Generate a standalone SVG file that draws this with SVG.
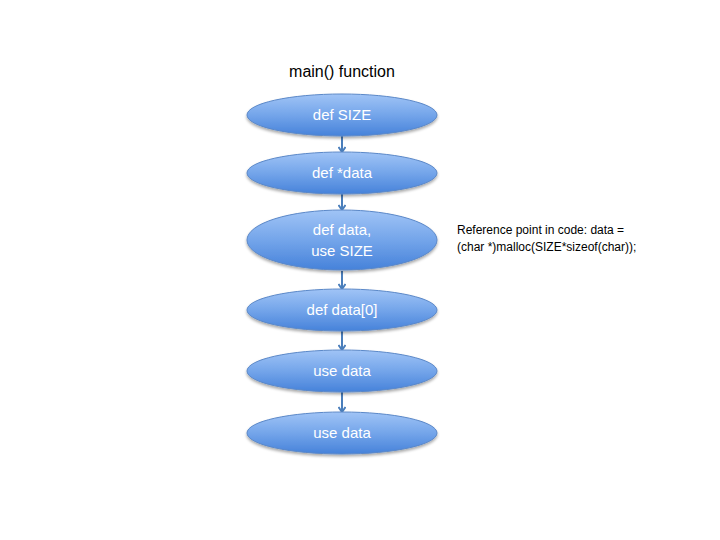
<svg xmlns="http://www.w3.org/2000/svg" width="720" height="540" viewBox="0 0 720 540">
<style>
.n{fill:url(#g);stroke:#5b88c8;stroke-width:1;filter:url(#sh)}
.t{font-family:"Liberation Sans",Arial,sans-serif;font-size:15px;fill:#fff;text-anchor:middle}
.c{stroke:#4a7ebb;stroke-width:2;fill:none;marker-end:url(#ah)}
.lbl{font-family:"Liberation Sans",Arial,sans-serif;fill:#000}
</style>
<defs>
<linearGradient id="g" x1="0" y1="0" x2="0" y2="1">
<stop offset="0" stop-color="#a0c4f6"/>
<stop offset="0.5" stop-color="#74a5ea"/>
<stop offset="1" stop-color="#4682da"/>
</linearGradient>
<filter id="sh" x="-10%" y="-20%" width="120%" height="150%">
<feGaussianBlur in="SourceAlpha" stdDeviation="1.5"/>
<feOffset dy="2" result="b"/>
<feComponentTransfer><feFuncA type="linear" slope="0.35"/></feComponentTransfer>
<feMerge><feMergeNode/><feMergeNode in="SourceGraphic"/></feMerge>
</filter>
<marker id="ah" markerWidth="8" markerHeight="8" refX="6" refY="4" orient="auto" markerUnits="userSpaceOnUse">
<path d="M1,0.5 L6,4 L1,7.5" fill="none" stroke="#4a7ebb" stroke-width="2"/>
</marker>
</defs>
<rect width="720" height="540" fill="#fff"/>
<text class="lbl" x="342" y="77" font-size="16" text-anchor="middle">main() function</text>
<g id="connectors">
<line class="c" x1="342" y1="136" x2="342" y2="152"/>
<line class="c" x1="342" y1="194" x2="342" y2="210"/>
<line class="c" x1="342" y1="271" x2="342" y2="289"/>
<line class="c" x1="342" y1="331" x2="342" y2="350"/>
<line class="c" x1="342" y1="392" x2="342" y2="412"/>
</g>
<g id="n1"><ellipse class="n" cx="342" cy="115" rx="95" ry="21"/><text class="t" x="342" y="120">def SIZE</text></g>
<g id="n2"><ellipse class="n" cx="342" cy="173" rx="95" ry="21"/><text class="t" x="342" y="178">def *data</text></g>
<g id="n3"><ellipse class="n" cx="342" cy="240" rx="95" ry="30"/><text class="t" x="342" y="235">def data,</text><text class="t" x="342" y="256">use SIZE</text></g>
<g id="n4"><ellipse class="n" cx="342" cy="310" rx="95" ry="21"/><text class="t" x="342" y="315">def data[0]</text></g>
<g id="n5"><ellipse class="n" cx="342" cy="371" rx="95" ry="21"/><text class="t" x="342" y="376">use data</text></g>
<g id="n6"><ellipse class="n" cx="342" cy="433" rx="95" ry="21"/><text class="t" x="342" y="438">use data</text></g>
<g id="note">
<text class="lbl" x="457" y="234" font-size="12">Reference point in code: data =</text>
<text class="lbl" x="457" y="251" font-size="12">(char *)malloc(SIZE*sizeof(char));</text>
</g>
</svg>
